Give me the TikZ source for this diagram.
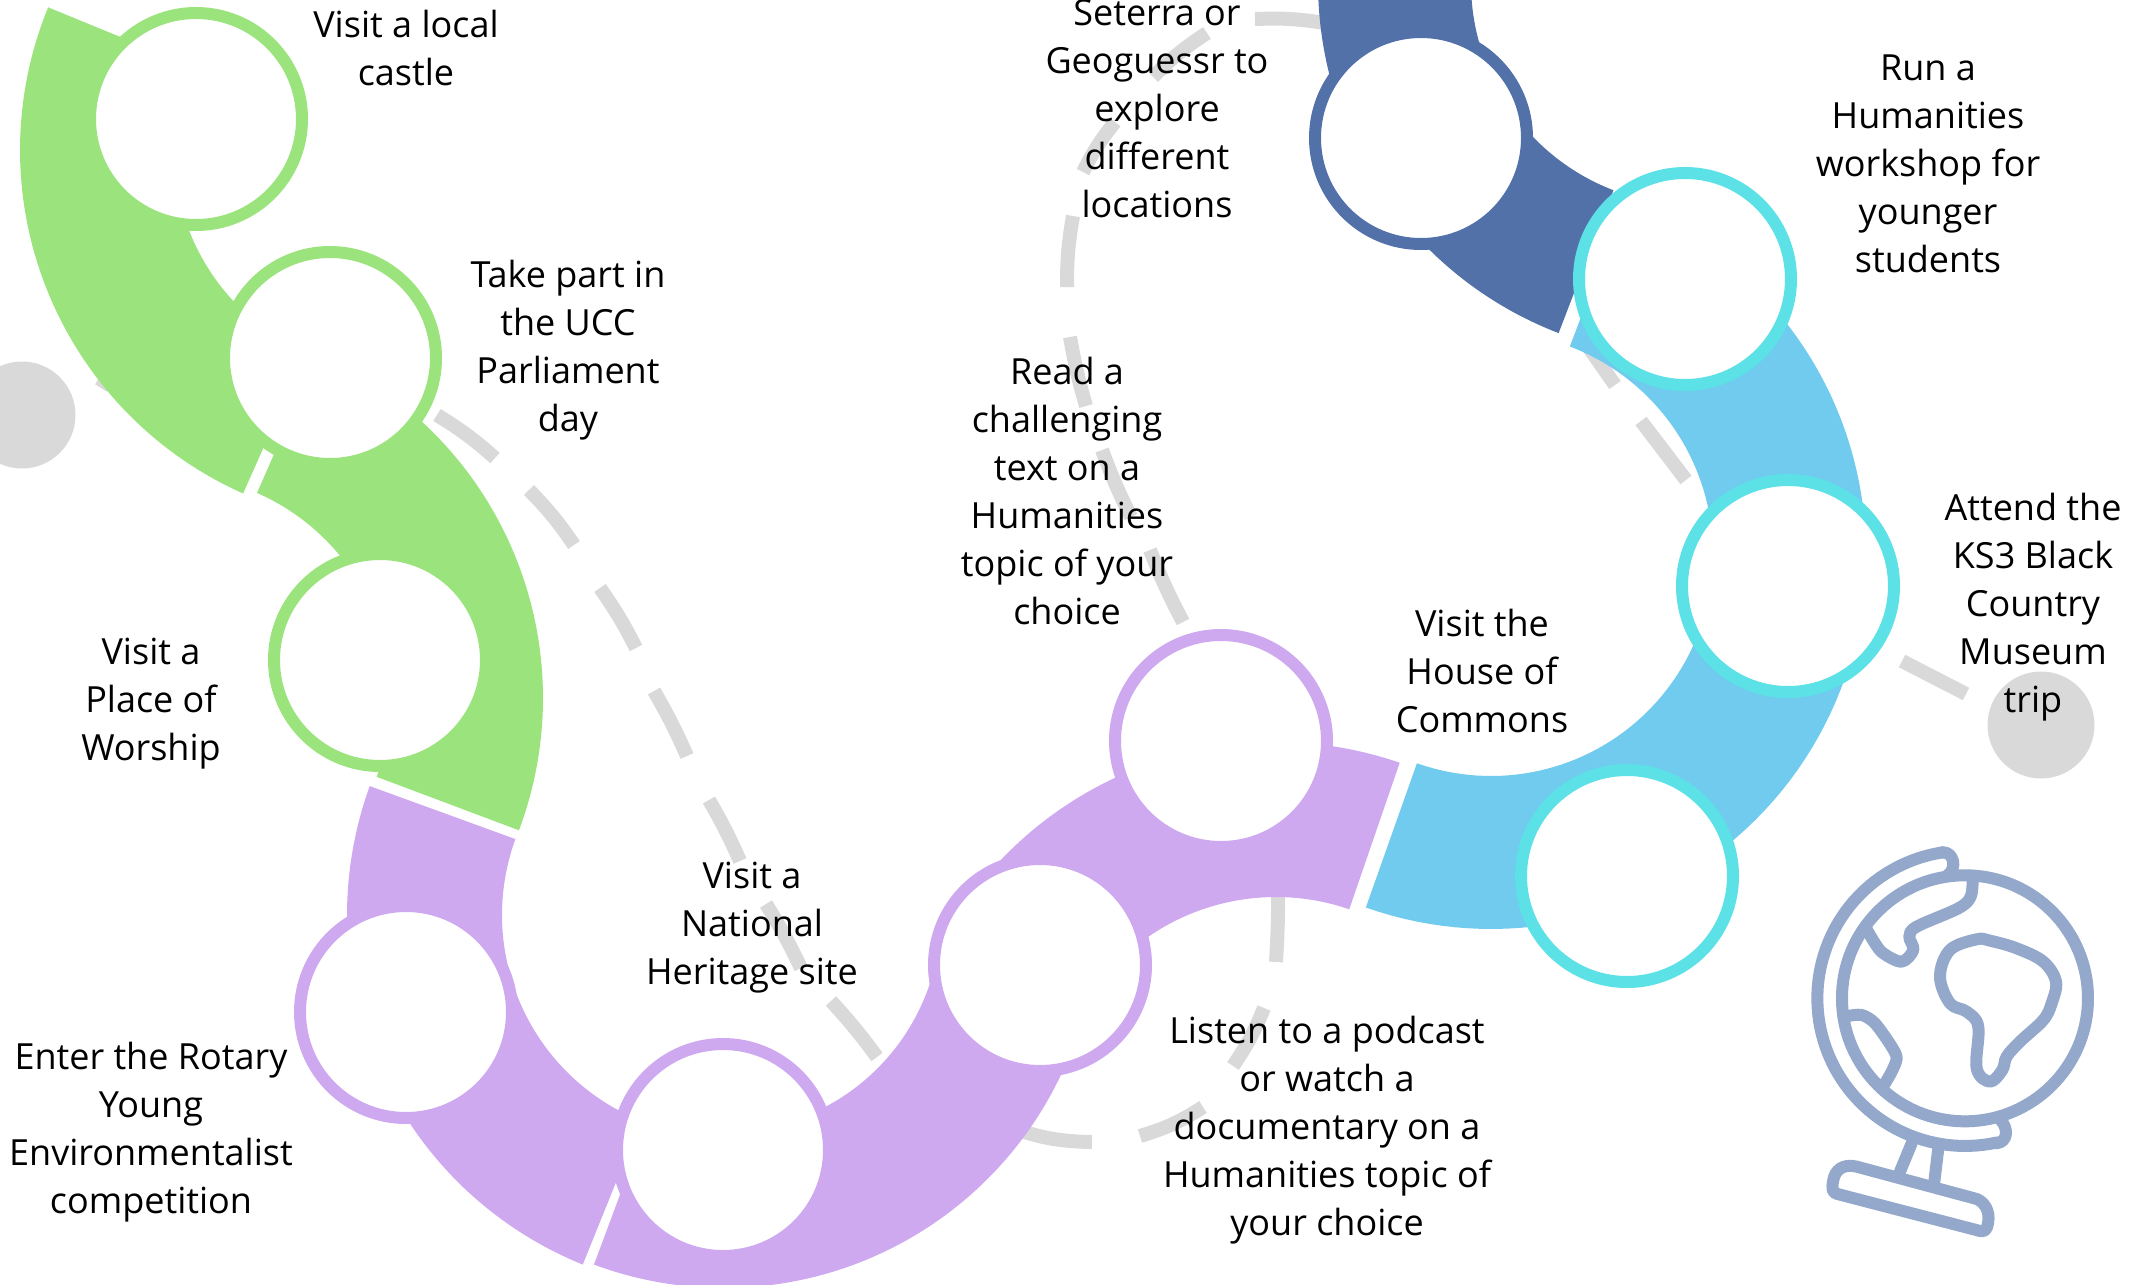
\documentclass[tikz,border=0pt]{standalone}
\usepackage{fontspec}
\setmainfont{Open Sans}
\definecolor{cgreen}{HTML}{9BE37C}
\definecolor{cpurple}{HTML}{CFA9F0}
\definecolor{ccyan}{HTML}{5CE1E6}
\definecolor{clight}{HTML}{70CBEE}
\definecolor{cdark}{HTML}{5271A9}
\definecolor{cgrey}{HTML}{D9D9D9}
\definecolor{cglobe}{HTML}{93A8CA}
\newcommand{\ribbon}[7]{\fill[#1] plot[domain=#6:#7,samples=90,variable=\t] ({#2+#5*cos(\t)},{#3+#5*sin(\t)}) -- plot[domain=#7:#6,samples=90,variable=\t] ({#2+#4*cos(\t)},{#3+#4*sin(\t)}) -- cycle;}
\tikzset{
  ring/.style={circle,draw=#1,fill=white,line width=12pt,inner sep=0pt,outer sep=0pt,minimum size=212pt},
  dot/.style={circle,fill=cgrey,inner sep=0pt,outer sep=0pt,minimum size=107pt},
  gdash/.style={draw=cgrey,line width=14pt},
  label/.style={align=center,font=\fontsize{36}{48}\selectfont,text=black,inner sep=0pt},
  globeline/.style={draw=cglobe,line width=12pt,line cap=round,line join=round}
}
\begin{document}
\begin{tikzpicture}[x=1pt,y=-1pt]
\clip (0,0) rectangle (2145,1285);
% grey dotted route
\node[dot] (dotL) at (22,415) {};
\node[dot] (dotR) at (2041,725) {};
\draw[gdash] (101,388) -- (125,350);
\draw[gdash] (437,415) to[bend left=5] (495,458);
\draw[gdash] (529,490) to[bend left=5] (574,545);
\draw[gdash] (600,588) to[bend left=4] (636,648);
\draw[gdash] (654,691) to[bend left=3] (687,756);
\draw[gdash] (709,800) to[bend left=3] (740,861);
\draw[gdash] (766,904) to[bend left=3] (801,968);
\draw[gdash] (831,1001) to[bend left=3] (877,1057);
\draw[gdash] (1005,1125) to[bend right=10] (1092,1142);
\draw[gdash] (1140,1136) to[bend right=8] (1203,1107);
\draw[gdash] (1233,1066) to[bend right=6] (1264,1008);
\draw[gdash] (1276,962) to[bend right=2] (1278,880);
\draw[gdash] (1183,622) to[bend left=3] (1150,550);
\draw[gdash] (1131,517) to[bend left=3] (1102,450);
\draw[gdash] (1086,406) to[bend left=3] (1070,337);
\draw[gdash] (1067,287) to[bend left=5] (1073,216);
\draw[gdash] (1083,172) to[bend left=6] (1115,122);
\draw[gdash] (1153,77) to[bend left=6] (1207,33);
\draw[gdash] (1255,19) to[bend left=6] (1330,24);
\draw[gdash] (1580,335) -- (1615,385);
\draw[gdash] (1641,421) -- (1686,480);
\draw[gdash] (1902,661) -- (1966,694);
% ribbons
\ribbon{cgreen}{396}{150}{222}{376}{202.3}{114}
\ribbon{cgreen}{167}{698}{224}{376}{-66.3}{20.6}
\ribbon{cpurple}{724}{915}{222}{377}{200}{112}
\ribbon{cpurple}{724}{915}{217}{373}{110.4}{5}
\ribbon{cpurple}{1276}{1122}{225}{380}{215}{289}
\ribbon{clight}{1491}{554}{222}{375}{109.5}{-69.2}
\ribbon{cdark}{1693}{-17}{222}{375}{111}{190}
% circles
\node[ring=cgreen] (c1) at (196,119) {};
\node[ring=cgreen] (c2) at (330,358) {};
\node[ring=cgreen] (c3) at (380,660) {};
\node[ring=cpurple] (c4) at (406,1012) {};
\node[ring=cpurple] (c5) at (723,1150) {};
\node[ring=cpurple] (c6) at (1040,965) {};
\node[ring=cpurple] (c7) at (1221,741) {};
\node[ring=ccyan] (c8) at (1627,876) {};
\node[ring=ccyan] (c9) at (1788,586) {};
\node[ring=ccyan] (c10) at (1685,279) {};
\node[ring=cdark] (c11) at (1421,138) {};
% labels
\node[label] (t1) at (406,48) {Visit a local\\castle};
\node[label] (t2) at (568,350) {Take part in\\the UCC\\Parliament\\day};
\node[label] (t3) at (151,704) {Visit a\\Place of\\Worship};
\node[label] (t4) at (151,1132) {Enter the Rotary\\Young\\Environmentalist\\competition};
\node[label] (t5) at (752,928) {Visit a\\National\\Heritage site};
\node[label] (t6) at (1327,1130) {Listen to a podcast\\or watch a\\documentary on a\\Humanities topic of\\your choice};
\node[label] (t7) at (1067,491) {Read a\\challenging\\text on a\\Humanities\\topic of your\\choice};
\node[label] (t8) at (1157,109) {Seterra or\\Geoguessr to\\explore\\different\\locations};
\node[label] (t9) at (1928,164) {Run a\\Humanities\\workshop for\\younger\\students};
\node[label] (t10) at (2033,607) {Attend the\\KS3 Black\\Country\\Museum\\trip};
\node[label] (t11) at (1482,671) {Visit the\\House of\\Commons};
% globe
\begin{scope}[shift={(1750,800)},x=0.3333pt,y=-0.3333pt]
\draw[globeline] (645,595) circle [radius=123pt];
\draw[globeline] plot[domain=77.6:261.3,samples=70,variable=\t] ({645+443*cos(\t)},{595+443*sin(\t)});
\draw[globeline] (578,157) .. controls (610,155) and (625,205) .. (590,228);
\draw[globeline] (740,1030) .. controls (775,1025) and (775,985) .. (752,960);
\draw[globeline] plot[smooth,tension=0.55] coordinates {(668,235) (662,290) (625,325) (500,380) (478,410) (490,450) (455,485) (400,460) (375,430) (350,388)};
\draw[globeline] plot[smooth cycle,tension=0.6] coordinates {(680,418) (720,422) (800,445) (880,485) (918,545) (905,610) (880,660) (810,725) (770,770) (757,810) (720,845) (680,805) (685,680) (650,635) (600,610) (570,530) (600,450)};
\draw[globeline] plot[smooth,tension=0.5] coordinates {(295,648) (335,645) (375,670) (425,740) (440,775) (425,815) (402,855)};
\draw[globeline] (485,1030) -- (450,1115);
\draw[globeline] (565,1045) -- (553,1145);
\draw[globeline] (262,1182) -- (690,1293) .. controls (705,1298) and (712,1285) .. (714,1270) .. controls (722,1230) and (700,1205) .. (680,1197) -- (320,1100) .. controls (280,1090) and (255,1110) .. (250,1140) .. controls (245,1165) and (245,1178) .. (262,1182) -- cycle;
\end{scope}
\end{tikzpicture}
\end{document}
